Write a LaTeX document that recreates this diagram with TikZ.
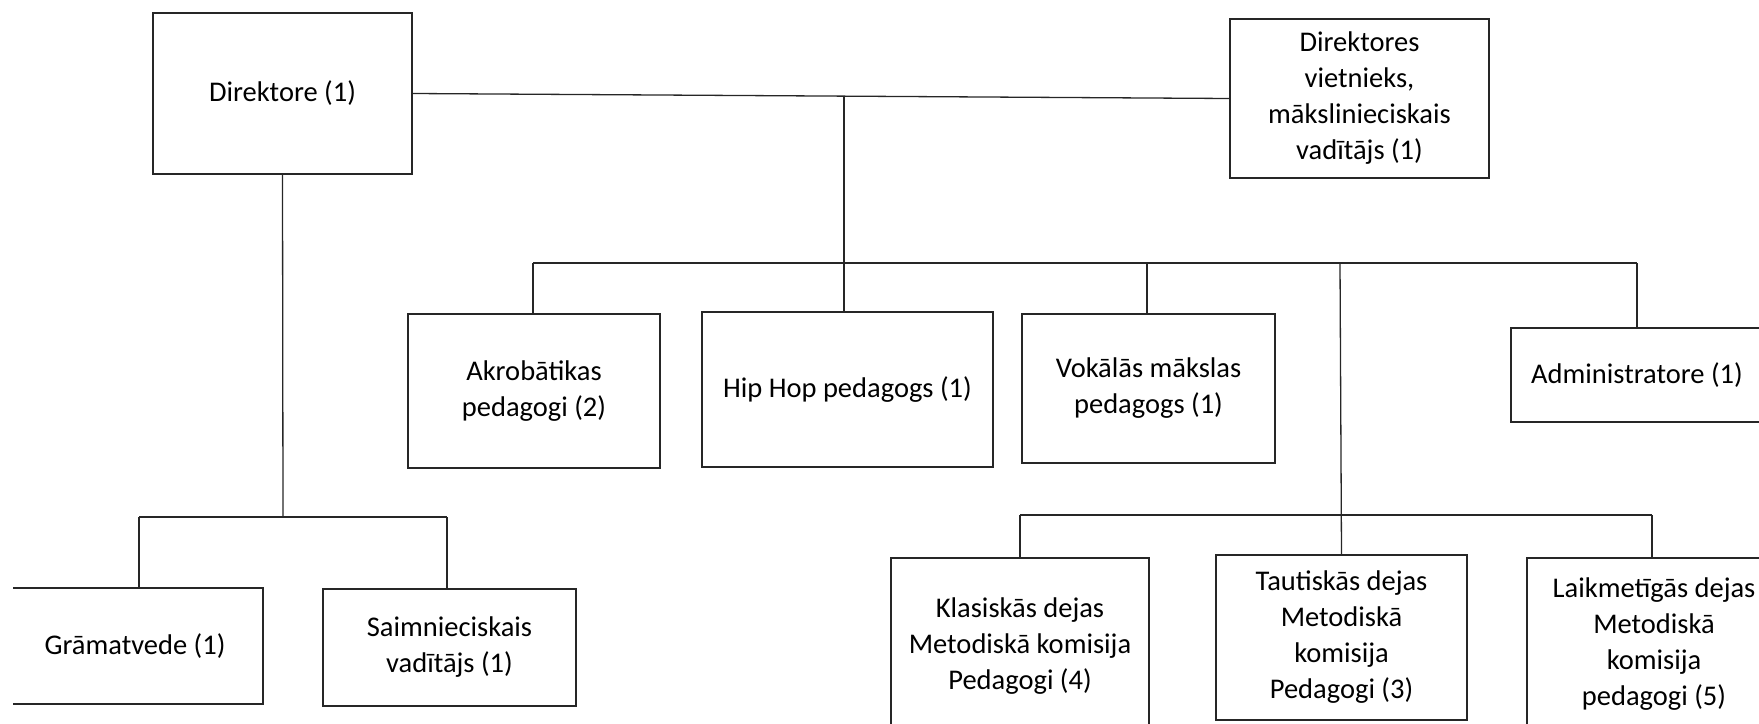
\documentclass[tikz,border=0pt]{standalone}
\usepackage{fontspec}
\setmainfont{Carlito}
\tikzset{
  box/.style={draw=black!85, line width=1.6pt, fill=white, align=center, inner sep=0pt,
    font=\fontsize{28.5}{36}\selectfont, text=black},
  conn/.style={draw=black!85, line width=1.3pt}
}
\begin{document}
\begin{tikzpicture}[x=1pt,y=-1pt]
\useasboundingbox (0,0) rectangle (1759,723);
\begin{scope}
\clip (13,-2) rectangle (1759,723);
% connectors
\node[box, minimum width=259pt, minimum height=161pt] (dir) at (282.5,93.5) {Direktore (1)};
\node[box, minimum width=259pt, minimum height=159pt] (dep) at (1359.5,98.5) {Direktores\\vietnieks,\\mākslinieciskais\\vadītājs (1)};
\node[box, minimum width=252pt, minimum height=154pt] (akr) at (534,391) {Akrobātikas\\pedagogi (2)};
\node[box, minimum width=291pt, minimum height=155pt] (hip) at (847.5,389.5) {Hip Hop pedagogs (1)};
\node[box, minimum width=253pt, minimum height=149pt] (vok) at (1148.5,388.5) {Vokālās mākslas\\pedagogs (1)};
\node[box, minimum width=252pt, minimum height=94pt] (adm) at (1637,375) {Administratore (1)};
\node[box, minimum width=256pt, minimum height=116pt] (gra) at (135,646) {Grāmatvede (1)};
\node[box, minimum width=253pt, minimum height=117pt] (sai) at (449.5,647.5) {Saimnieciskais\\vadītājs (1)};
\node[box, minimum width=258pt, minimum height=176pt] (kla) at (1020,646) {Klasiskās dejas\\Metodiskā komisija\\Pedagogi (4)};
\node[box, minimum width=251pt, minimum height=165pt] (tau) at (1341.5,637.5) {Tautiskās dejas\\Metodiskā\\komisija\\Pedagogi (3)};
\node[box, minimum width=254pt, minimum height=172pt] (lai) at (1654,644) {Laikmetīgās dejas\\Metodiskā\\komisija\\pedagogi (5)};

% top line between director and deputy
\draw[conn] (dir.east) -- (dep.west);
\coordinate (j1) at (844,95.5);
\draw[conn] (j1) -- (j1 |- hip.north);
% upper bar
\coordinate (ub1) at (533,263);
\coordinate (ub2) at (1637,263);
\draw[conn] (ub1) -- (ub2);
\draw[conn] (ub1) -- (ub1 |- akr.north);
\coordinate (uv) at (1147,263);
\draw[conn] (uv) -- (uv |- vok.north);
\draw[conn] (ub2) -- (ub2 |- adm.north);
\coordinate (ut) at (1340,263);
\draw[conn] (ut) -- (tau.north);
% lower right bar
\coordinate (lb1) at (1020,515);
\coordinate (lb2) at (1652,515);
\draw[conn] (lb1) -- (lb2);
\draw[conn] (lb1) -- (lb1 |- kla.north);
\draw[conn] (lb2) -- (lb2 |- lai.north);
% left branch
\coordinate (lj) at (283,517);
\draw[conn] (dir.south) -- (lj);
\coordinate (lb3) at (139,517);
\coordinate (lb4) at (447,517);
\draw[conn] (lb3) -- (lb4);
\draw[conn] (lb3) -- (lb3 |- gra.north);
\draw[conn] (lb4) -- (lb4 |- sai.north);
\end{scope}
\end{tikzpicture}
\end{document}
